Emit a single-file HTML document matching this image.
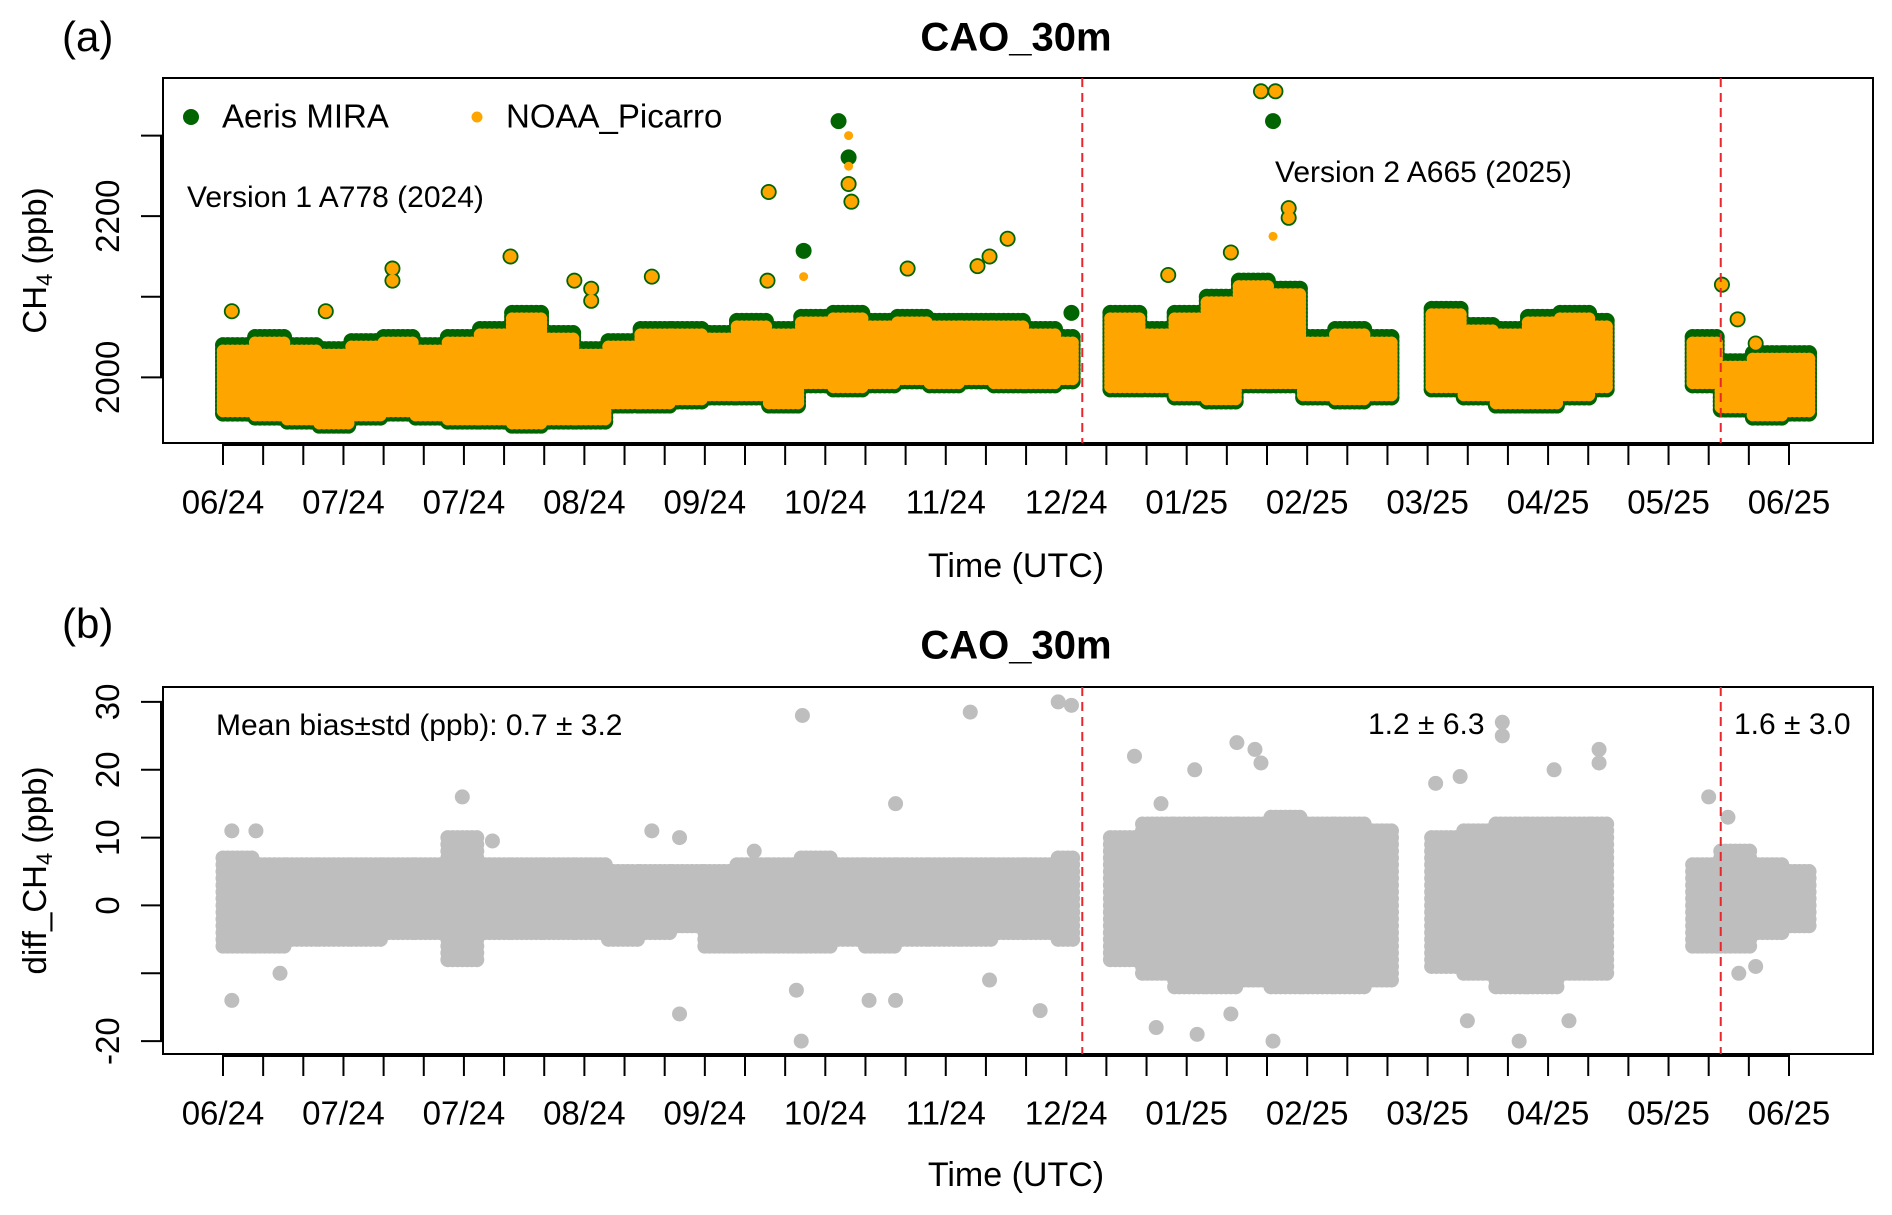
<!DOCTYPE html>
<html><head><meta charset="utf-8">
<style>
html,body{margin:0;padding:0;background:#fff;}
svg{display:block;font-family:"Liberation Sans",Arial,sans-serif;}
</style></head>
<body>
<svg id="chart" width="1892" height="1215" viewBox="0 0 1892 1215" xmlns="http://www.w3.org/2000/svg">
<rect width="1892" height="1215" fill="#fff"/>
<g id="pa"></g>
<g id="pb"></g>
</svg>
<script>
// ---- data ----
const tickLabels = ["06/24","07/24","07/24","08/24","09/24","10/24","11/24","12/24","01/25","02/25","03/25","04/25","05/25","06/25"];
const yTicksA = [2000, 2100, 2200, 2300];
const yTickLabelsA = ["2000", "", "2200", ""];
const yTicksB = [-20, -10, 0, 10, 20, 30];
const yTickLabelsB = ["-20", "", "0", "10", "20", "30"];
const versionBreaks = [214, 373];
// CH4 envelopes: bin start day, low, high (ppb)
const binDaysA = [0,8,16,24,32,40,48,56,64,72,80,88,96,104,112,120,128,136,144,152,160,168,176,184,192,200,208, 221,229,237,245,253,261,269,277,285, 301,309,317,325,333,341, 366,373,381,389];
const lowA  = [1955,1950,1945,1940,1950,1955,1950,1945,1945,1940,1945,1945,1965,1965,1970,1975,1975,1965,1990,1985,1990,1995,1990,1995,1990,1990,1995, 1985,1985,1975,1970,1990,1990,1975,1970,1975, 1985,1975,1965,1965,1975,1985, 1990,1960,1950,1955];
const highA = [2040,2050,2040,2035,2045,2050,2040,2050,2060,2080,2055,2035,2045,2060,2060,2055,2070,2060,2075,2080,2070,2075,2070,2070,2070,2060,2050, 2080,2060,2080,2100,2120,2110,2050,2060,2050, 2085,2065,2060,2075,2080,2070, 2050,2020,2030,2030];
const binEndA = [8,8,8,8,8,8,8,8,8,8,8,8,8,8,8,8,8,8,8,8,8,8,8,8,8,8,4, 8,8,8,8,8,8,8,8,6, 8,8,8,8,8,4, 7,8,8,7];
// outliers
const outDaysG = [2.2,25.6,42.2,42.2,71.6,87.5,91.7,91.7,106.8,135.9,135.6,144.6,153.3,155.8,155.8,156.5,170.5,187.9,190.9,195.4,211.3,258.5,262.1,261.5,265.4,265.4,235.4,251,373.3,377.2,381.7];
const outValsG = [2082,2082,2135,2120,2150,2120,2110,2095,2125,2230,2120,2157,2318,2273,2240,2218,2135,2138,2150,2172,2080,2355,2355,2318,2210,2198,2127,2155,2115,2072,2042];
const outIsGreenOnly = [0,0,0,0,0,0,0,0,0,0,0,1,1,1,0,0,0,0,0,0,1,0,0,1,0,0,0,0,0,0,0];
const outDaysO = [144.6,155.8,155.8,261.5];
const outValsO = [2125,2300,2262,2175];
// diff envelopes
const binDaysB = [0,8,16,24,32,40,48,56,64,72,80,88,96,104,112,120,128,136,144,152,160,168,176,184,192,200,208, 221,229,237,245,253,261,269,277,285, 301,309,317,325,333,341, 366,373,381,389];
const lowB  = [-6,-6,-5,-5,-5,-4,-4,-8,-4,-4,-4,-4,-5,-4,-3,-6,-6,-6,-6,-5,-6,-5,-5,-5,-4,-4,-5, -8,-10,-12,-12,-11,-12,-12,-12,-11, -9,-10,-12,-12,-10,-10, -6,-6,-4,-3];
const highB = [7,6,6,6,6,6,6,10,6,6,6,6,5,5,5,5,6,6,7,6,6,6,6,6,6,6,7, 10,12,12,12,12,13,12,12,11, 10,11,12,12,12,12, 6,8,6,5];
const outDaysB = [2.2,2.2,8.2,14.2,59.6,59.6,67.1,106.8,113.7,113.7,132.3,144.3,142.8,144,160.9,167.5,167.5,186.1,190.9,203.5,208,211.3, 227,233.6,242,252.5,257,258.5,232.4,242.6,261.5,251,308.1,318.6,318.6,309.9,322.8,335.2,342.7,342.7,331.5,302, 370,374.8,381.7,377.5];
const outValsB = [11,-14,11,-10,16,-7,9.5,11,10,-16,8,28,-12.5,-20,-14,15,-14,28.5,-11,-15.5,30,29.5, 22,15,20,24,23,21,-18,-19,-20,-16,19,27,25,-17,-20,-17,21,23,20,18, 16,13,-9,-10];

// ---- geometry ----
const X0 = 223, PXD = (1789 - 223) / 390;
const xDay = d => X0 + d * PXD;
const A = {top:78, bot:443, min:1918.5, max:2371.5};
const B = {top:687, bot:1054, min:-21.9, max:32.2};
const yA = v => A.bot - (v - A.min) / (A.max - A.min) * (A.bot - A.top);
const yB = v => B.bot - (v - B.min) / (B.max - B.min) * (B.bot - B.top);
const NS = "http://www.w3.org/2000/svg";
function el(tag, attrs, parent, txt){
  const e = document.createElementNS(NS, tag);
  for (const k in attrs) e.setAttribute(k, attrs[k]);
  if (txt !== undefined) e.textContent = txt;
  parent.appendChild(e); return e;
}
const pa = document.getElementById('pa'), pb = document.getElementById('pb');

function axes(g, P, yf, ticks, labels, yTitleMain, yTitleSub, yTitleEnd, titleY, tagY, tagTxt, timeY) {
  const t = el('text', {x:1016, y:titleY, 'text-anchor':'middle', 'font-size':40, 'font-weight':'bold', 'dominant-baseline':'middle'}, g, 'CAO_30m');
  
  
  const tg = el('text', {x:62, y:tagY, 'font-size':42, 'dominant-baseline':'middle'}, g, tagTxt);
  
  
  const bx = el('rect', {x:163, y:P.top, width:1710, height:P.bot - P.top, fill:'none', stroke:'#000', 'stroke-width':2}, g);
  
  
  const xa = el('g', {}, g);
  
  
  el('line', {x1:xDay(0), x2:xDay(390), y1:P.bot + 2, y2:P.bot + 2, stroke:'#000', 'stroke-width':2}, xa);
  for (let d = 0; d <= 390; d += 10) {
    el('line', {x1:xDay(d), x2:xDay(d), y1:P.bot, y2:P.bot + 22, stroke:'#000', 'stroke-width':2}, xa);
  }
  tickLabels.forEach((lab, i) => {
    const tx = el('text', {x:xDay(i * 30), y:P.bot + 62, 'text-anchor':'middle', 'font-size':33, 'dominant-baseline':'middle'}, xa, lab);
    
    
  });
  const xt = el('text', {x:1016, y:timeY, 'text-anchor':'middle', 'font-size':34, 'dominant-baseline':'middle'}, g, 'Time (UTC)');
  
  
  const ya = el('g', {}, g);
  
  
  el('line', {x1:161, x2:161, y1:yf(ticks[0]), y2:yf(ticks[ticks.length - 1]), stroke:'#000', 'stroke-width':2}, ya);
  ticks.forEach((v, i) => {
    const y = yf(v);
    el('line', {x1:141, x2:163, y1:y, y2:y, stroke:'#000', 'stroke-width':2}, ya);
    if (labels[i]) {
      const tl = el('text', {x:0, y:0, transform:`translate(119 ${y}) rotate(-90)`, 'text-anchor':'middle', 'font-size':33}, ya, labels[i]);
      
      
    }
  });
  const cy = (P.top + P.bot) / 2;
  const yt = el('text', {x:0, y:0, transform:`translate(46 ${cy}) rotate(-90)`, 'text-anchor':'middle', 'font-size':33}, g);
  
  
  el('tspan', {}, yt, yTitleMain);
  el('tspan', {'font-size':22, dy:6}, yt, yTitleSub);
  el('tspan', {dy:-6}, yt, yTitleEnd);
  versionBreaks.forEach(d => {
    const vl = el('line', {x1:xDay(d), x2:xDay(d), y1:P.top, y2:P.bot, stroke:'#e8262b', 'stroke-width':2, 'stroke-dasharray':'9 6'}, g);
    
    
  });
}

// ---- panel A points ----
const gG = el('g', {fill:'#006400'}, pa);


const gO = el('g', {fill:'#ffa500'}, pa);


binDaysA.forEach((d0, i) => {
  for (let d = d0; d < d0 + binEndA[i]; d += 1.2) {
    for (let v = lowA[i]; v <= highA[i]; v += 5) {
      el('circle', {cx:xDay(d), cy:yA(v), r:8}, gG);
    }
  }
});
binDaysA.forEach((d0, i) => {
  for (let d = d0; d < d0 + binEndA[i]; d += 1.2) {
    for (let v = lowA[i] + 3; v <= highA[i] - 3; v += 5) {
      el('circle', {cx:xDay(d), cy:yA(v), r:6.2}, gO);
    }
  }
});
outDaysG.forEach((d, i) => {
  const c = el('circle', {cx:xDay(d), cy:yA(outValsG[i]), r:8}, gG);
  
  
  if (!outIsGreenOnly[i]) el('circle', {cx:xDay(d), cy:yA(outValsG[i]), r:6.2}, gO);
});
outDaysO.forEach((d, i) => {
  const c = el('circle', {cx:xDay(d), cy:yA(outValsO[i]), r:4.5}, gO);
  
  
});
axes(pa, A, yA, yTicksA, yTickLabelsA, 'CH', '4', ' (ppb)', 40, 40, '(a)', 568);
const lg = el('g', {}, pa);


el('circle', {cx:191, cy:117, r:8, fill:'#006400'}, lg);
const l1 = el('text', {x:222, y:119, 'font-size':33, 'dominant-baseline':'middle'}, lg, 'Aeris MIRA');


el('circle', {cx:477, cy:117, r:5.5, fill:'#ffa500'}, lg);
const l2 = el('text', {x:506, y:119, 'font-size':33, 'dominant-baseline':'middle'}, lg, 'NOAA_Picarro');


const v1 = el('text', {x:187, y:199, 'font-size':30, 'dominant-baseline':'middle'}, pa, 'Version 1 A778 (2024)');


const v2 = el('text', {x:1275, y:174, 'font-size':30, 'dominant-baseline':'middle'}, pa, 'Version 2 A665 (2025)');



// ---- panel B points ----
const gD = el('g', {fill:'#bebebe'}, pb);


binDaysB.forEach((d0, i) => {
  for (let d = d0; d < d0 + binEndA[i]; d += 1.2) {
    for (let v = lowB[i]; v <= highB[i]; v += 1) {
      el('circle', {cx:xDay(d), cy:yB(v), r:7.5}, gD);
    }
  }
});
outDaysB.forEach((d, i) => {
  const c = el('circle', {cx:xDay(d), cy:yB(outValsB[i]), r:7.5}, gD);
  
  
});
axes(pb, B, yB, yTicksB, yTickLabelsB, 'diff_CH', '4', ' (ppb)', 648, 627, '(b)', 1177);
const b1 = el('text', {x:216, y:727, 'font-size':30, 'dominant-baseline':'middle'}, pb, 'Mean bias±std (ppb): 0.7 ± 3.2');


const b2 = el('text', {x:1368, y:726, 'font-size':30, 'dominant-baseline':'middle'}, pb, '1.2 ± 6.3');


const b3 = el('text', {x:1734, y:726, 'font-size':30, 'dominant-baseline':'middle'}, pb, '1.6 ± 3.0');


</script>
</body></html>
